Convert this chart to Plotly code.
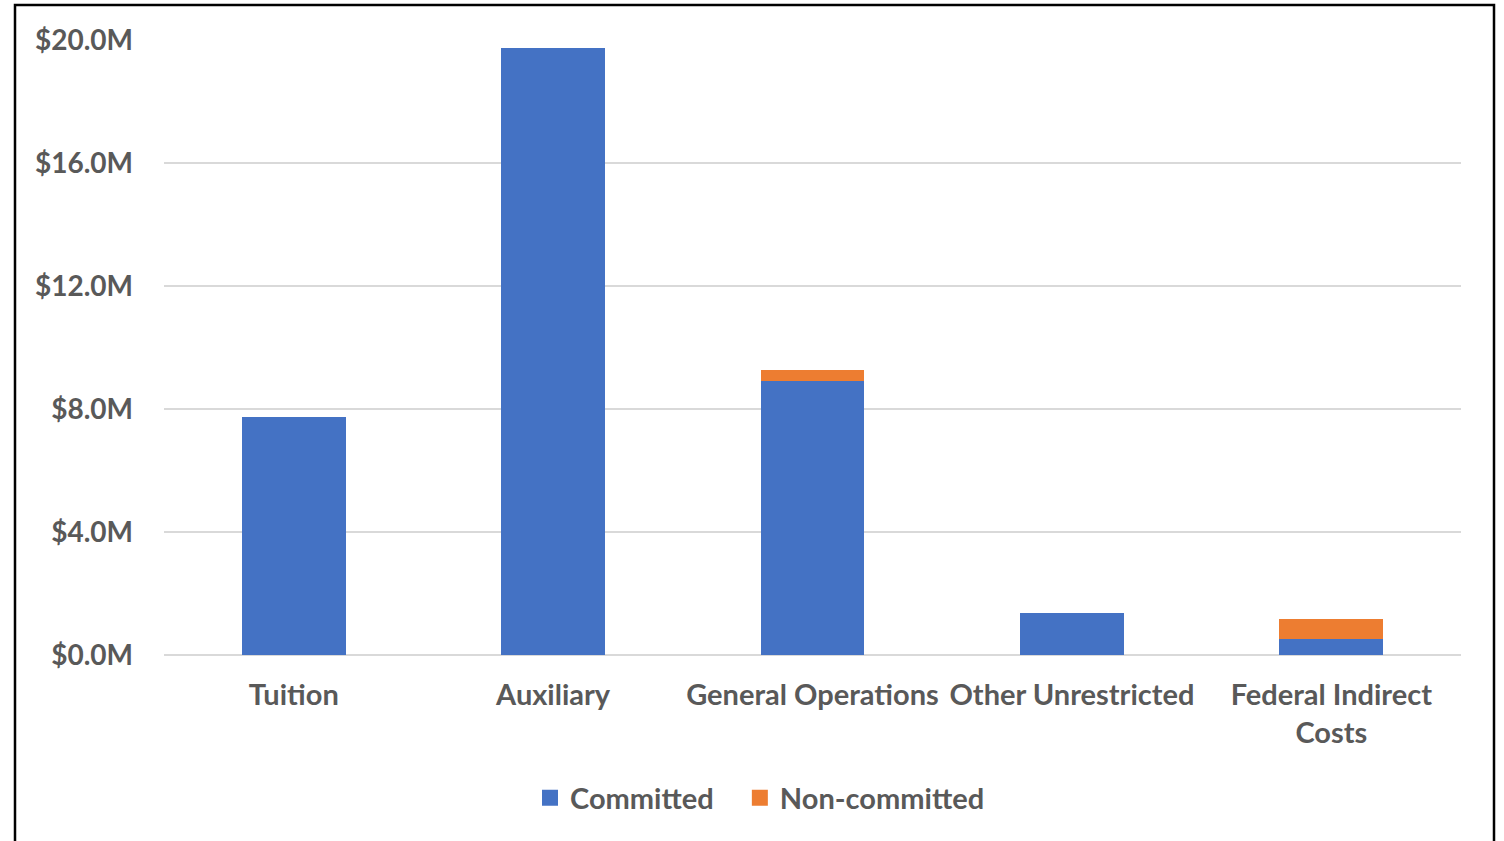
import plotly.graph_objects as go

# Fund sources and balances, in millions of dollars
categories = ["Tuition", "Auxiliary", "General Operations", "Other Unrestricted",
              "Federal Indirect<br>Costs"]
committed = [7.74, 19.74, 8.91, 1.36, 0.52]
non_committed = [0.0, 0.0, 0.36, 0.0, 0.66]
tick_vals = [0, 4, 8, 12, 16, 20]
tick_text = ["$0.0M", "$4.0M", "$8.0M", "$12.0M", "$16.0M", "$20.0M"]
series_names = ["Committed", "Non-committed"]
series_colors = ["#4472C4", "#ED7D31"]

W, H = 1504, 841
L, R, T, B = 164, 43, 40, 186
pw, ph = W - L - R, H - T - B

font_family = "Lato, 'Open Sans', sans-serif"
text_color = "#595959"
pad = "\u00a0" * 3  # extra spacing between legend entries

fig = go.Figure()
for i, (name, vals, color) in enumerate(zip(series_names, [committed, non_committed],
                                             series_colors)):
    fig.add_trace(go.Bar(x=categories, y=vals, name=name, showlegend=False,
                         marker=dict(color=color, line=dict(width=0))))
    # square legend swatch for the series
    label = name + (pad if i < len(series_names) - 1 else "")
    fig.add_trace(go.Scatter(x=[None], y=[None], mode="markers", name=label,
                             marker=dict(symbol="square", size=18, color=color)))

# outer frame around the chart
fig.add_shape(type="rect", xref="paper", yref="paper",
              x0=(15 - L) / pw, x1=(1494 - L) / pw,
              y0=-0.6, y1=(H - B - 5) / ph,
              line=dict(color="black", width=2.5), fillcolor="rgba(0,0,0,0)",
              layer="below")

fig.update_layout(
    width=W, height=H,
    margin=dict(l=L, r=R, t=T, b=B),
    barmode="stack",
    bargap=0.6,
    plot_bgcolor="white",
    paper_bgcolor="white",
    font=dict(family=font_family, size=28, color=text_color),
    showlegend=True,
    legend=dict(orientation="h", x=(760 - L) / pw, y=(H - B - 798) / ph,
                xanchor="center", yanchor="middle", itemsizing="trace",
                font=dict(size=29, color=text_color, weight="bold"),
                traceorder="normal", itemwidth=30),
    xaxis=dict(showgrid=False, showline=False, zeroline=False,
               tickfont=dict(size=29, color=text_color, weight="bold"),
               ticks="", ticklabelstandoff=20),
    yaxis=dict(range=[0, 20], tickvals=tick_vals, ticktext=tick_text,
               showgrid=True, gridcolor="#d9d9d9", gridwidth=2,
               zeroline=True, zerolinecolor="#d9d9d9", zerolinewidth=2,
               showline=False, ticks="", ticklabelstandoff=30,
               tickfont=dict(size=28, color=text_color, weight="bold")),
)

fig.write_html("out.html")
